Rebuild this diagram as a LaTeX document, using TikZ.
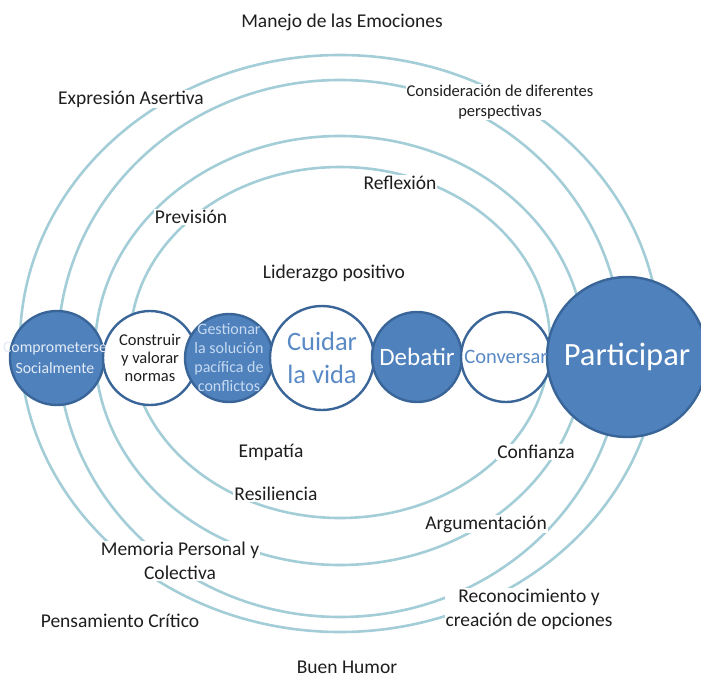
\documentclass[tikz,border=0pt]{standalone}
\usepackage{fontspec}
\setmainfont{Carlito}
\definecolor{ringc}{HTML}{A3CDD7}
\definecolor{bluef}{HTML}{4F81BD}
\definecolor{edgec}{HTML}{3A6598}
\definecolor{txtc}{HTML}{1E1E1E}
\definecolor{paleblue}{HTML}{C5D9F1}
\definecolor{palewhite}{HTML}{E2EBF6}
\definecolor{midblue}{HTML}{5A8AC6}
\begin{document}
\begin{tikzpicture}[x=1pt,y=-1pt,
  ring/.style={draw=ringc, line width=2.6pt},
  lbl/.style={fill=white, text=txtc, inner sep=1pt, align=center,
    font=\fontsize{19.5}{24}\selectfont},
  small/.style={lbl, font=\fontsize{16.5}{20}\selectfont},
  bcirc/.style={circle, draw=edgec, line width=2.4pt, fill=bluef, inner sep=0pt},
  wcirc/.style={circle, draw=edgec, line width=2.4pt, fill=white, inner sep=0pt},
  ctext/.style={align=center, inner sep=0pt}]
\useasboundingbox (0,0) rectangle (701,677);
% rings
\draw[ring] (340,343.5) ellipse [x radius=320pt, y radius=288.5pt];
\draw[ring] (340,348.5) ellipse [x radius=282pt, y radius=268.5pt];
\draw[ring] (340,350.5) ellipse [x radius=245pt, y radius=214.5pt];
\draw[ring] (340,342.5) ellipse [x radius=210pt, y radius=175.5pt];
% labels
\node[lbl] (manejo) at (342,22) {Manejo de las Emociones};
\node[lbl] (expr) at (131,99) {Expresión Asertiva};
\node[small] (consid) at (500,102) {Consideración de diferentes\\perspectivas};
\node[lbl] (refl) at (400,183) {Reflexión};
\node[lbl] (prev) at (191,217) {Previsión};
\node[lbl] (lider) at (334,273) {Liderazgo positivo};
\node[lbl] (empat) at (271,452) {Empatía};
\node[lbl] (confi) at (536,452) {Confianza};
\node[lbl] (resil) at (276,494) {Resiliencia};
\node[lbl] (argum) at (486,524) {Argumentación};
\node[lbl] (memo) at (180,561) {Memoria Personal y\\Colectiva};
\node[lbl] (recon) at (529,609) {Reconocimiento y\\creación de opciones};
\node[lbl] (pensa) at (120,621) {Pensamiento Crítico};
\node[lbl] (humor) at (347,667) {Buen Humor};
% circles
\node[bcirc, minimum size=94pt] (comp) at (57,358) {};
\node[wcirc, minimum size=94pt] (cons) at (150,358) {};
\node[bcirc, minimum size=88pt] (gest) at (229,358) {};
\node[wcirc, minimum size=104pt] (cuid) at (322,358) {};
\node[bcirc, minimum size=90pt] (deb) at (417,357) {};
\node[wcirc, minimum size=90pt] (conv) at (506,357) {};
\node[bcirc, minimum size=160pt] (part) at (627,357) {};
% circle texts
\node[ctext, text=palewhite, font=\fontsize{15.8}{21}\selectfont] (compt) at (55,358) {Comprometerse\\Socialmente};
\node[ctext, text=txtc, font=\fontsize{16.5}{18}\selectfont] (const) at (cons) {Construir\\y valorar\\normas};
\node[ctext, text=paleblue, font=\fontsize{16}{19}\selectfont] (gestt) at (gest) {Gestionar\\la solución\\pacífica de\\conflictos};
\node[ctext, text=midblue, font=\fontsize{26.5}{33}\selectfont] (cuidt) at (cuid) {Cuidar\\la vida};
\node[ctext, text=white, font=\fontsize{25}{28}\selectfont] (debt) at (deb) {Debatir};
\node[ctext, text=midblue, font=\fontsize{20.5}{24}\selectfont] (convt) at (conv) {Conversar};
\node[ctext, text=white, font=\fontsize{32.5}{38}\selectfont] (partt) at (part) {Participar};
\end{tikzpicture}
\end{document}
